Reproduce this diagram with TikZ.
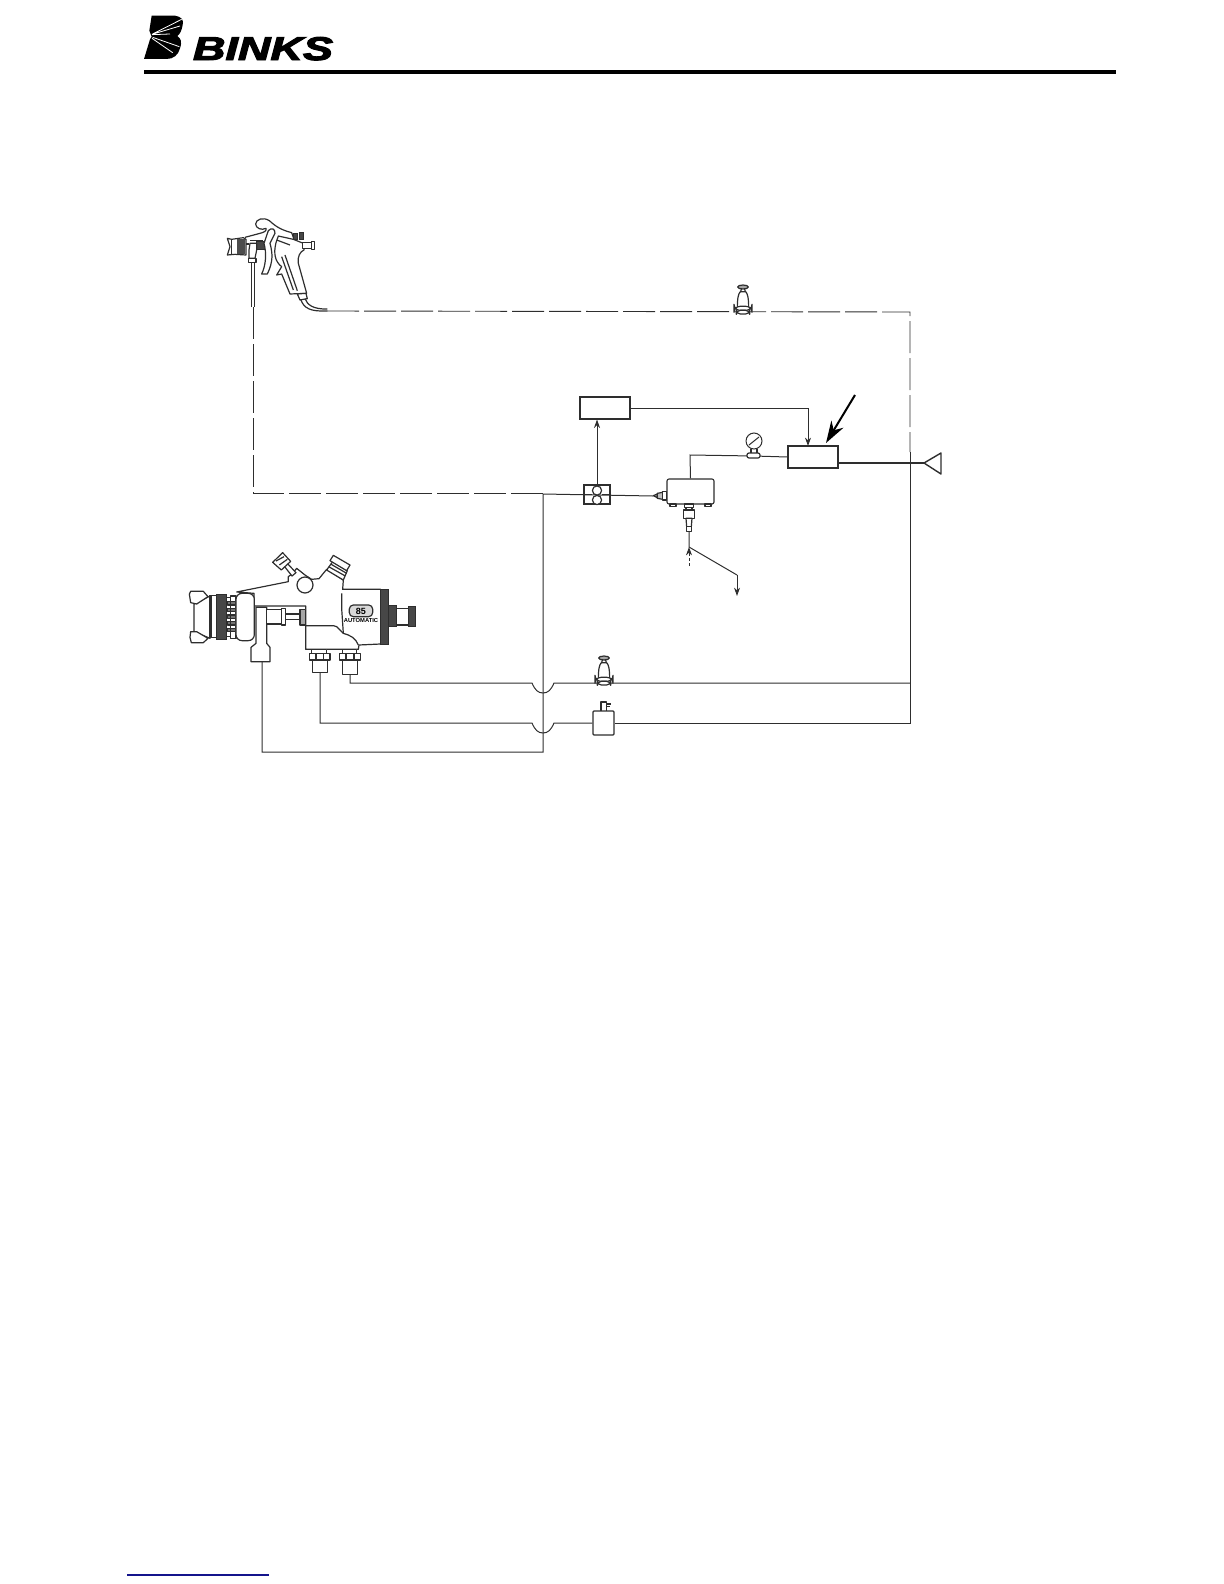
\documentclass[tikz,border=0pt]{standalone}
\usepackage{fontspec}
\usepackage{graphicx}
\setmainfont{Liberation Sans}
\newfontfamily\logof[FakeBold=3]{Liberation Sans}
\usetikzlibrary{arrows.meta}
\definecolor{ink}{gray}{0.18}
\tikzset{
 line/.style={draw=ink,line width=0.5pt},
 dashline/.style={draw=ink,line width=0.45pt,dash pattern=on 16pt off 2.5pt},
 boxn/.style={draw=ink,line width=0.55pt,inner sep=0,fill=white,minimum width=#1},
 tip/.style={-{Stealth[length=4.2pt,width=3pt]}},
 art/.style={draw=ink,line width=0.6pt,line join=round},
 dark/.style={draw=ink,line width=0.5pt,fill=black!72},
 regu/.pic={\begin{scope}[x=1/6pt,y=-1/6pt]
   \draw[art,fill=white] (-17,-14) .. controls (-17,-45) and (-14,-58) .. (-8,-64) -- (8,-64) .. controls (14,-58) and (17,-45) .. (17,-14) -- cycle;
   \draw[art,fill=black!35] (0,-78) ellipse (16 and 6);
   \draw[art] (-5,-72) -- (-7,-64) (5,-72) -- (7,-64);
   \draw[art,fill=white,rounded corners=3pt] (-27,-20) rectangle (27,-8);
   \draw[art,fill=white,rounded corners=2pt] (-20,-8) rectangle (20,3);
 \end{scope}}
}
\begin{document}
\begin{tikzpicture}[x=0.5pt,y=-0.5pt]
\useasboundingbox (0,0) rectangle (1224,1584);
% header
\fill[black] (144,70) rectangle (1116,74);
\begin{scope}[shift={(130,0)},x=1/6pt,y=-1/6pt]
 \fill[black] (65,47) -- (135,47) .. controls (155,50) and (162,60) .. (158,75) .. controls (155,92) and (150,102) .. (142,108) .. controls (152,115) and (157,125) .. (150,145) .. controls (145,165) and (130,177) .. (110,177) -- (42,177) -- (60,118) -- (65,110) -- (58,92) -- cycle;
 \draw[white,line width=0.4pt] (66,103) -- (155,58) (66,103) -- (150,78) (66,104) -- (120,102) (68,112) -- (148,140) (66,115) -- (128,158);
 \node[inner sep=0,anchor=center] (logotext) at (399,146) {\resizebox{70pt}{11.5pt}{\logof\bfseries\itshape BINKS}};
\end{scope}
\draw[draw={rgb,255:red,20;green,20;blue,140},line width=0.8pt] (127,1575) -- (269,1575);

% named points
\coordinate (gunhose) at (327,311);
\coordinate (gunfluid) at (253,307);
\coordinate (topright) at (910,312);
\coordinate (dashend) at (910,452);
\coordinate (wet) at (543,494);
\coordinate (dashmid) at (543,493);
\coordinate (leftcorner) at (253,493);
\coordinate (l1) at (910,683);
\coordinate (l2) at (910,723);
\coordinate (reg2) at (604,683);
\coordinate (reg1) at (743,313);

% boxes
\node[boxn=25pt,minimum height=11pt] (topbox) at (605,408) {};
\node[boxn=25pt,minimum height=11pt] (mainreg) at (813,457) {};
\node[boxn=13pt,minimum height=9.5pt] (twin) at (597,494.5) {};
\node[boxn=10.5pt,minimum height=12pt,rounded corners=0.5pt] (sol) at (603.5,723) {};
\node[boxn=23.5pt,minimum height=12.5pt,rounded corners=1pt] (filter) at (690.5,491.5) {};
\node[draw=ink,line width=.5pt,circle,inner sep=0,minimum size=8pt,fill=white] (gauge) at (754,441) {};
\coordinate (gaugebase) at (754,456);
\coordinate (tri) at (924,463);
\coordinate (lowfit1) at (350,674);
\coordinate (lowfit2) at (320,673);
\coordinate (lowfit3) at (262,662);
\coordinate (nip) at (653,496);
\coordinate (stem) at (689,532);
\coordinate (split) at (689,547);
\coordinate (drain) at (737,596);
\coordinate (airin) at (689,566);

% connectors
\path[dashline] (gunhose) -- (topright) -- (dashend);
\path[dashline] (gunfluid) -- (leftcorner) -- (dashmid);
\draw[line] (dashend) -- (l2) -- (sol.east);
\draw[line] (l1) -- (reg2) -- (554,683) .. controls (551,690) and (548,693) .. (543,693) .. controls (538,693) and (535,690) .. (532,683) -- (350,683) -- (lowfit1);
\draw[line] (sol.west) -- (554,723) .. controls (551,730) and (548,733) .. (543,733) .. controls (538,733) and (535,730) .. (532,723) -- (320,723) -- (lowfit2);
\draw[line] (lowfit3) -- (262,752) -- (543,752) -- (wet) -- (nip);
\draw[line,tip] (twin.north) -- (twin.north |- topbox.south);
\draw[line,tip] (topbox.east) -- (808,408) -- (808,446);
\draw[line] (filter.north) -- (690,455) -- (gaugebase) -- (mainreg.west);
\draw[draw=ink,line width=1pt] (mainreg.east |- tri) -- (tri);
\draw[line] (stem) -- (split) -- (737,575);
\draw[line,tip] (737,575) -- (drain);
\draw[line,-{Stealth[length=4.2pt,width=3pt]},dash pattern=on 1.5pt off 1pt] (airin) -- (split);
\draw[draw=black,line width=1pt,-{Stealth[length=11pt,width=7pt]}] (855,395) -- (826,443);

% triangle, gauge, twin circles
\draw[art,line width=0.7pt] (tri) -- (941,453) -- (941,474) -- cycle;
\draw[line] (gauge.center) ++(-5,4) -- ++(10,-8);
\draw[art] (751,449) -- (751,453) (757,449) -- (757,453);
\draw[art,fill=white,rounded corners=1pt] (747,453) rectangle (760,458);
\draw[art,fill=white] (597,490.5) circle (4.6);
\draw[art,fill=white] (597,500) circle (4.6);
\draw[line] (twin.west) -- (592.4,494.5) (601.6,494.5) -- (twin.east);

% filter fittings
\begin{scope}[shift={(560,380)},x=1/6pt,y=-1/6pt]
 \draw[art,fill=white] (280,347) -- (292,342) -- (292,353) -- cycle;
 \draw[art,fill=black!25] (292,340) -- (308,337) -- (308,358) -- (292,355) -- cycle;
 \draw[art,fill=white] (308,335) rectangle (320,360);
 \draw[art,fill=white] (373,372) rectangle (401,383);
 \draw[art,fill=white] (371,390) rectangle (403,415);
 \draw[art] (378,383) -- (378,390) (396,383) -- (396,390);
 \draw[art,fill=white] (378,415) -- (396,415) -- (394,440) -- (380,440) -- cycle;
 \draw[art,fill=white] (380,440) rectangle (394,455);
 \draw[art,fill=white] (330,372) rectangle (348,380) (435,372) rectangle (453,380);
\end{scope}

% regulators
\pic at (reg1) {regu};
\pic at (604,684) {regu};
% solenoid top
\begin{scope}[shift={(510,640)},x=1/6pt,y=-1/6pt]
 \draw[art] (273,212) -- (273,186) -- (290,186) -- (290,212);
 \draw[art] (290,192) -- (302,192) (290,200) -- (300,200);
\end{scope}

% spray gun, upper
\begin{scope}[shift={(210,200)},x=1/6pt,y=-1/6pt]
 \draw[art,fill=white] (52,115) -- (65,118) -- (100,113) -- (108,118) -- (108,165) -- (75,163) -- (52,165) -- (60,140) -- cycle;
 \fill[black!70] (82,116) -- (106,116) -- (106,163) -- (82,163) -- cycle;
 \draw[art] (65,118) -- (65,163);
 \draw[art] (105,112) -- (150,100) .. controls (160,98) and (172,92) .. (168,85) .. controls (155,92) and (137,85) .. (137,72) .. controls (137,58) and (160,50) .. (178,62) .. controls (190,72) and (205,88) .. (245,98) -- (252,118) -- (275,135);
 \draw[art] (120,122) -- (160,122) (108,132) -- (118,132);
 \draw[dark] (140,125) rectangle (165,150);
 \draw[art,fill=white] (120,130) -- (140,130) -- (140,150) -- (135,175) -- (117,175) -- (117,150) -- cycle;
 \draw[art,fill=white] (115,175) rectangle (138,188);
 \draw[art] (125,188) -- (125,322) (133,188) -- (133,322);
 \draw[art,fill=white] (175,92) .. controls (185,82) and (195,85) .. (195,100) -- (180,130) .. controls (188,160) and (190,185) .. (172,222) -- (155,222) .. controls (168,195) and (170,160) .. (162,130) -- cycle;
 \draw[art,fill=white] (198,128) .. controls (190,160) and (195,185) .. (215,200) -- (200,225) -- (215,222) -- (240,282) -- (290,280) -- (265,190) .. controls (262,170) and (270,155) .. (282,150) -- (280,130) -- (250,118) -- (205,108) -- cycle;
 \draw[art] (215,170) -- (250,270) (225,165) -- (262,272) (200,120) -- (240,135);
 \draw[dark] (250,100) rectangle (262,120) (268,98) rectangle (280,118);
 \draw[art,fill=white] (278,128) rectangle (305,146);
 \draw[art,fill=white] (305,124) rectangle (313,148);
 \draw[art,fill=white] (262,282) -- (288,280) -- (292,296) -- (270,300) -- cycle;
 \draw[art] (272,298) .. controls (282,325) and (300,335) .. (352,333);
 \draw[art] (285,296) .. controls (292,315) and (310,328) .. (352,327);
\end{scope}

% automatic gun, lower
\begin{scope}[shift={(170,530)},x=1/6pt,y=-1/6pt]
 \draw[art,fill=white] (200,186) -- (355,155) -- (355,140) -- (368,130) -- (380,115) -- (405,135) -- (425,148) -- (447,146) -- (470,118) -- (520,150) -- (518,178) -- (632,178) -- (632,342) -- (567,345) -- (565,358) -- (407,358) -- (407,228) -- (252,228) -- (252,190) -- cycle;
 \draw[art] (515,190) -- (515,235) -- (520,310) .. controls (540,315) and (558,325) .. (565,345);
 \draw[art] (407,287) -- (490,287) -- (500,290) -- (520,310);
 \draw[art,fill=white] (72,222) -- (120,198) -- (120,325) -- (72,305) -- cycle;
 \draw[art,fill=white] (58,192) -- (62,184) -- (100,184) -- (114,200) -- (80,222) -- (62,218) -- cycle;
 \draw[art,fill=white] (62,305) -- (80,305) -- (114,325) -- (100,338) -- (64,338) -- (60,322) -- cycle;
 \draw[art,fill=white] (120,197) rectangle (140,323);
 \draw[art] (124,197) -- (124,323);
 \draw[dark] (140,193) rectangle (170,327);
 \draw[art,fill=white] (170,203) rectangle (182,320);
 \foreach \yy in {215,235,255,275,295} {\draw[art,fill=black!55] (172,\yy) rectangle (197,\yy+10);}
 \draw[art] (182,198) rectangle (198,325);
 \draw[art,fill=white,rounded corners=3pt] (198,190) rectangle (253,332);
 \draw[art,fill=white] (258,232) -- (290,232) -- (290,340) -- (300,352) -- (300,395) -- (243,395) -- (243,352) -- (258,340) -- cycle;
 \draw[art,fill=white] (290,238) rectangle (335,282);
 \draw[art,fill=white] (335,235) rectangle (347,285);
 \draw[art,fill=white] (347,252) rectangle (390,268);
 \draw[art,fill=black!35] (390,238) rectangle (407,285);
 \draw[art,fill=white] (405,165) circle (24);
 \draw[art,fill=white] (340,105) -- (350,98) -- (378,128) -- (366,138) -- cycle;
 \draw[art,fill=white] (308,97) -- (338,68) -- (362,94) -- (334,120) -- cycle;
 \draw[art] (318,93) -- (342,80) (328,105) -- (352,88);
 \draw[art,fill=white] (470,120) -- (488,95) -- (532,122) -- (520,150) -- cycle;
 \draw[art,fill=white] (480,92) -- (490,76) -- (540,105) -- (530,122) -- cycle;
 \draw[art] (476,110) -- (526,138) (482,102) -- (530,130);
 \draw[dark] (632,178) rectangle (655,342);
 \draw[dark] (655,225) rectangle (680,290);
 \draw[art,fill=white] (680,235) rectangle (715,285);
 \draw[dark] (715,230) rectangle (738,290);
 \draw[art,fill=black!15,rounded corners=2pt] (538,225) rectangle (608,260);
 \node[inner sep=0,font=\fontsize{4.5pt}{4.5pt}\selectfont\bfseries] (badge) at (573,243) {85};
 \node[inner sep=0,font=\fontsize{2.9pt}{3pt}\selectfont\bfseries] (autom) at (573,272) {AUTOMATIC};
 \draw[art,fill=white] (425,358) rectangle (470,370);
 \draw[art,fill=white] (518,358) rectangle (560,370);
 \draw[art,fill=white] (418,370) rectangle (480,390);
 \draw[art,fill=white] (508,370) rectangle (572,390);
 \draw[art] (438,370) -- (438,390) (460,370) -- (460,390) (528,370) -- (528,390) (552,370) -- (552,390);
 \draw[art,fill=white] (428,390) rectangle (472,428);
 \draw[art,fill=white] (518,392) rectangle (563,433);
\end{scope}
\end{tikzpicture}
\end{document}
